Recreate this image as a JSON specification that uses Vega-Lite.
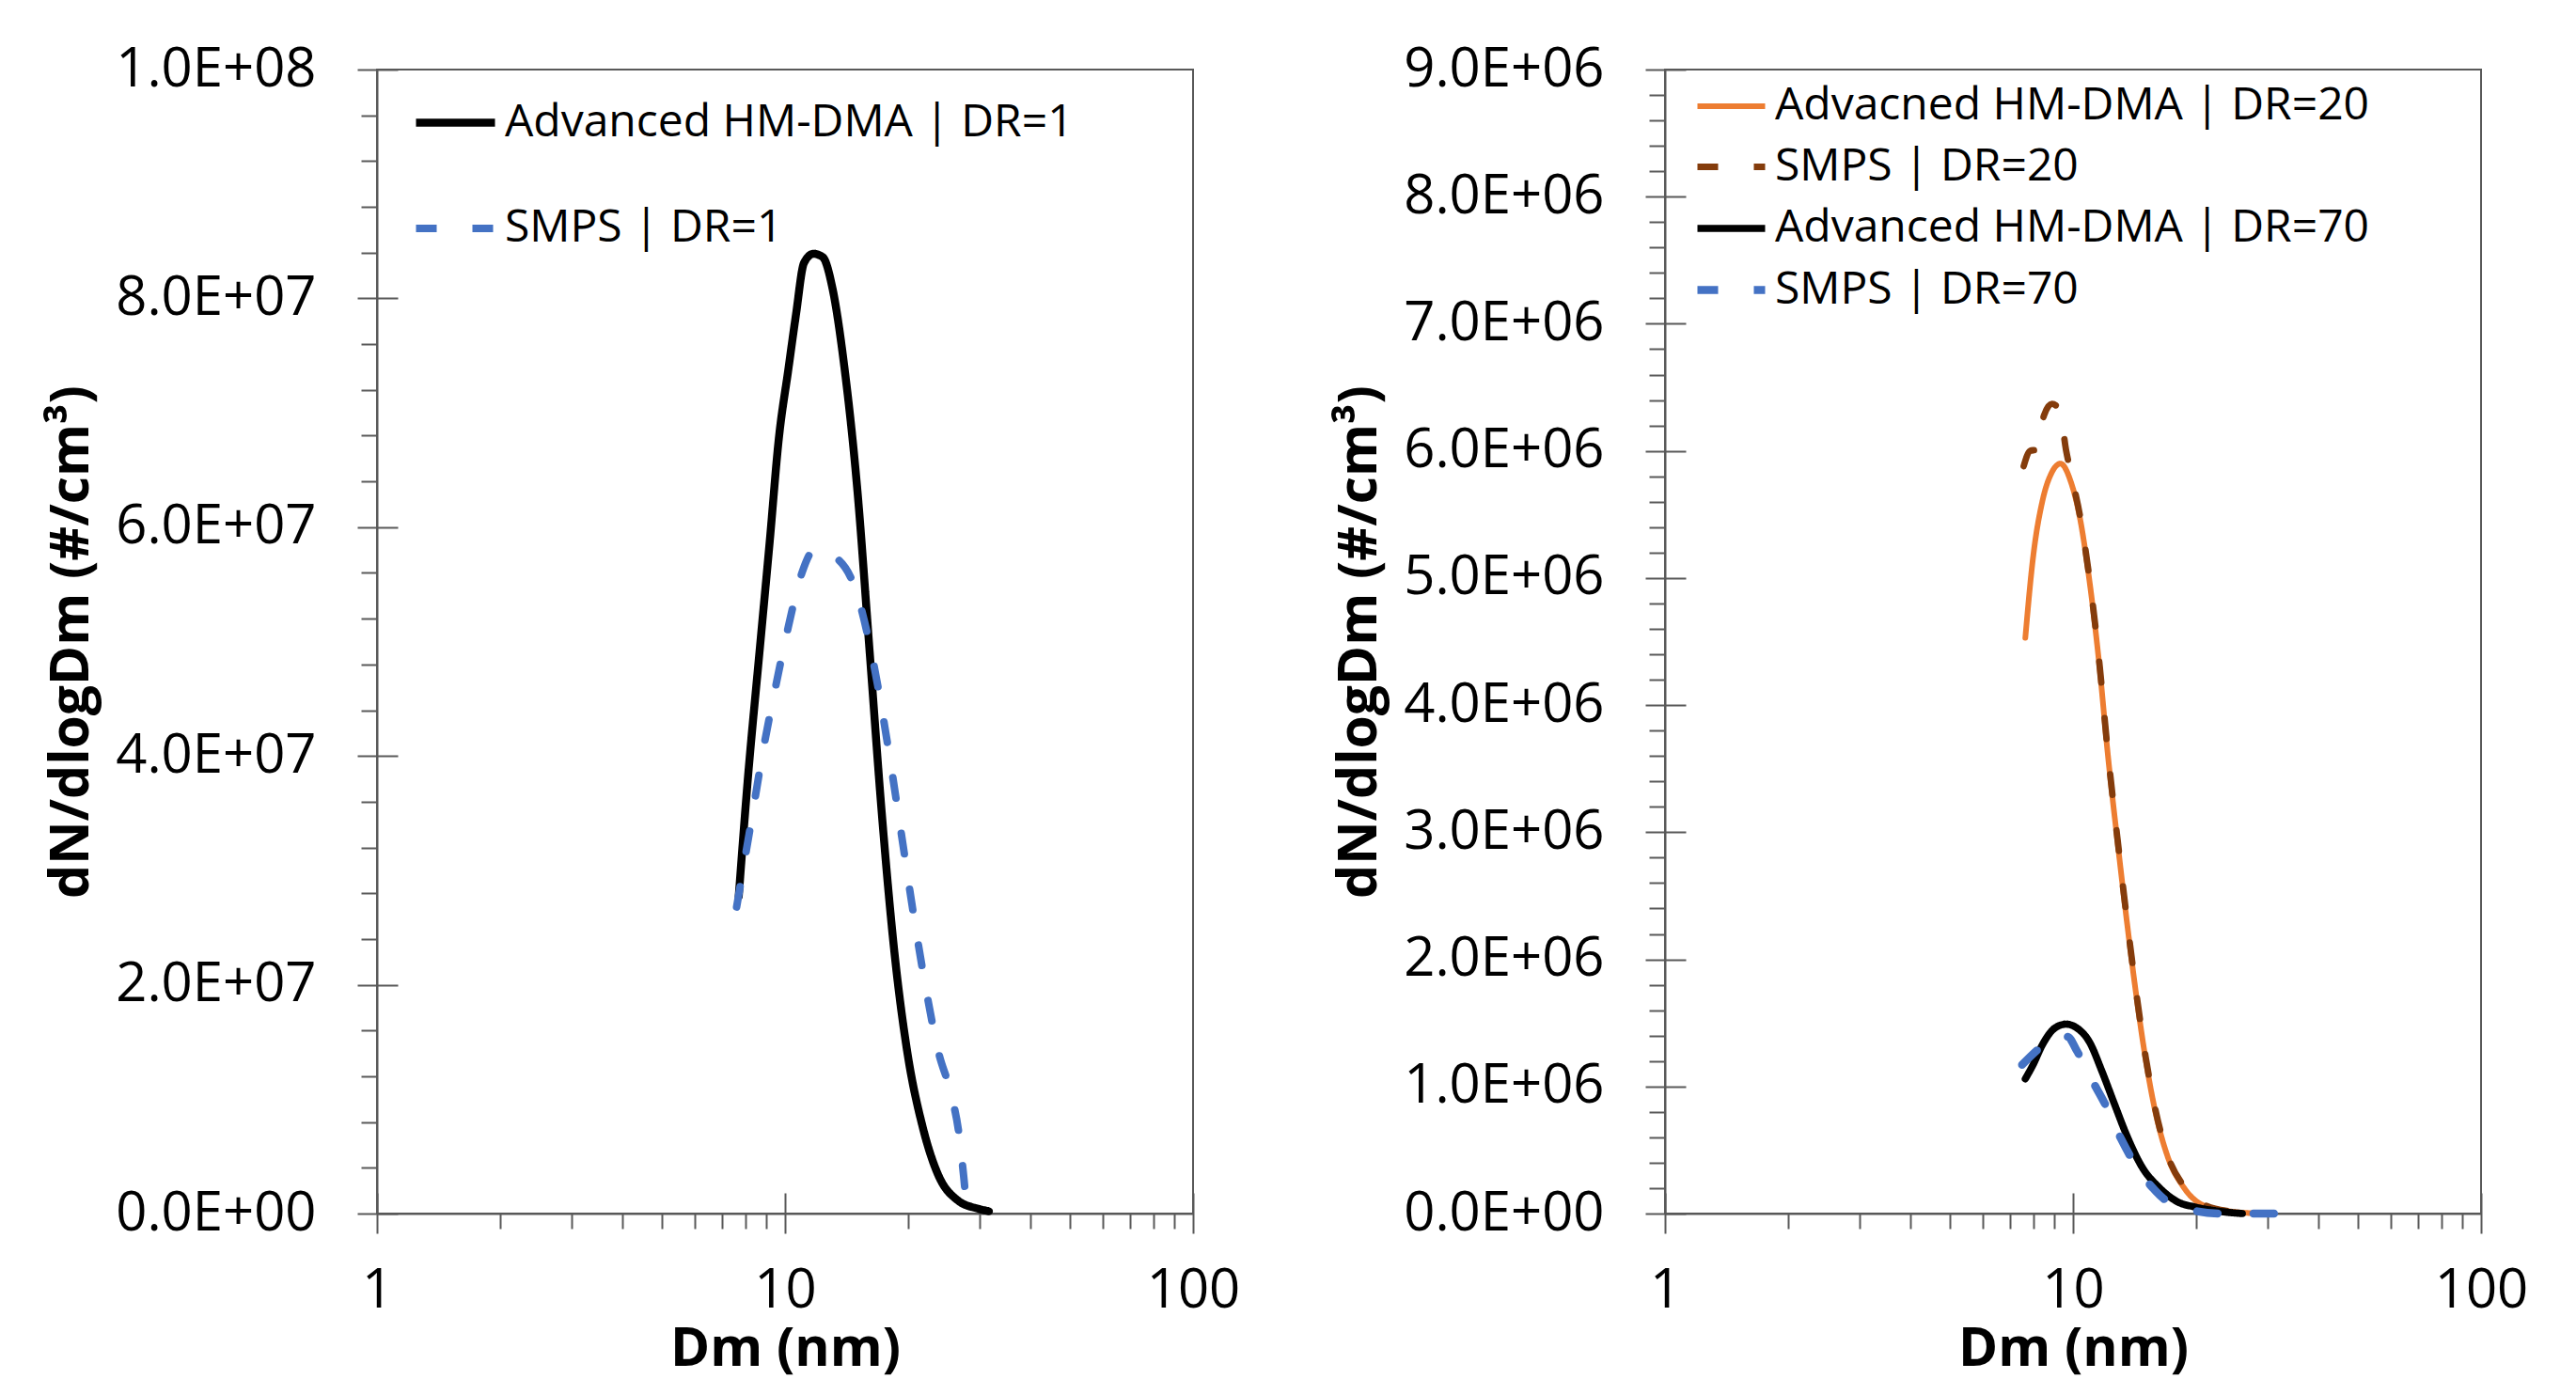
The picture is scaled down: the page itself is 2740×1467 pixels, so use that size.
{
  "$schema": "https://vega.github.io/schema/vega-lite/v6.json",
  "background": "white",
  "padding": {"left": 46, "top": 44, "right": 0, "bottom": 0},
  "spacing": 96,
  "datasets": {
    "left": [
      {"series": "Advanced HM-DMA | DR=1", "Dm": 7.70, "value": 27700000},
      {"series": "Advanced HM-DMA | DR=1", "Dm": 8.09, "value": 37600000},
      {"series": "Advanced HM-DMA | DR=1", "Dm": 8.69, "value": 49700000},
      {"series": "Advanced HM-DMA | DR=1", "Dm": 9.17, "value": 58700000},
      {"series": "Advanced HM-DMA | DR=1", "Dm": 9.66, "value": 67800000},
      {"series": "Advanced HM-DMA | DR=1", "Dm": 10.19, "value": 73800000},
      {"series": "Advanced HM-DMA | DR=1", "Dm": 10.64, "value": 78600000},
      {"series": "Advanced HM-DMA | DR=1", "Dm": 11.13, "value": 83100000},
      {"series": "Advanced HM-DMA | DR=1", "Dm": 11.74, "value": 83900000},
      {"series": "Advanced HM-DMA | DR=1", "Dm": 12.38, "value": 83600000},
      {"series": "Advanced HM-DMA | DR=1", "Dm": 13.05, "value": 81000000},
      {"series": "Advanced HM-DMA | DR=1", "Dm": 14.0, "value": 73800000},
      {"series": "Advanced HM-DMA | DR=1", "Dm": 15.02, "value": 63500000},
      {"series": "Advanced HM-DMA | DR=1", "Dm": 16.13, "value": 49000000},
      {"series": "Advanced HM-DMA | DR=1", "Dm": 17.3, "value": 34600000},
      {"series": "Advanced HM-DMA | DR=1", "Dm": 18.57, "value": 22600000},
      {"series": "Advanced HM-DMA | DR=1", "Dm": 19.94, "value": 14100000},
      {"series": "Advanced HM-DMA | DR=1", "Dm": 21.77, "value": 7500000},
      {"series": "Advanced HM-DMA | DR=1", "Dm": 23.79, "value": 3300000},
      {"series": "Advanced HM-DMA | DR=1", "Dm": 26.4, "value": 1200000},
      {"series": "Advanced HM-DMA | DR=1", "Dm": 29.9, "value": 400000},
      {"series": "Advanced HM-DMA | DR=1", "Dm": 31.6, "value": 200000},
      {"series": "SMPS | DR=1", "Dm": 7.61, "value": 26800000},
      {"series": "SMPS | DR=1", "Dm": 8.24, "value": 34000000},
      {"series": "SMPS | DR=1", "Dm": 8.85, "value": 40600000},
      {"series": "SMPS | DR=1", "Dm": 9.49, "value": 46100000},
      {"series": "SMPS | DR=1", "Dm": 10.19, "value": 51300000},
      {"series": "SMPS | DR=1", "Dm": 11.0, "value": 56000000},
      {"series": "SMPS | DR=1", "Dm": 11.8, "value": 58000000},
      {"series": "SMPS | DR=1", "Dm": 13.1, "value": 57500000},
      {"series": "SMPS | DR=1", "Dm": 14.9, "value": 54500000},
      {"series": "SMPS | DR=1", "Dm": 16.5, "value": 48000000},
      {"series": "SMPS | DR=1", "Dm": 17.92, "value": 40600000},
      {"series": "SMPS | DR=1", "Dm": 19.24, "value": 33400000},
      {"series": "SMPS | DR=1", "Dm": 20.64, "value": 26200000},
      {"series": "SMPS | DR=1", "Dm": 22.16, "value": 19600000},
      {"series": "SMPS | DR=1", "Dm": 23.78, "value": 14100000},
      {"series": "SMPS | DR=1", "Dm": 25.5, "value": 10500000},
      {"series": "SMPS | DR=1", "Dm": 26.7, "value": 6900000},
      {"series": "SMPS | DR=1", "Dm": 27.4, "value": 3300000},
      {"series": "SMPS | DR=1", "Dm": 27.9, "value": 600000},
      {"series": "SMPS | DR=1", "Dm": 28.3, "value": 0}
    ],
    "right": [
      {"series": "Advacned HM-DMA | DR=20", "Dm": 7.64, "value": 4530000},
      {"series": "Advacned HM-DMA | DR=20", "Dm": 7.98, "value": 5160000},
      {"series": "Advacned HM-DMA | DR=20", "Dm": 8.42, "value": 5610000},
      {"series": "Advacned HM-DMA | DR=20", "Dm": 8.87, "value": 5830000},
      {"series": "Advacned HM-DMA | DR=20", "Dm": 9.32, "value": 5900000},
      {"series": "Advacned HM-DMA | DR=20", "Dm": 9.87, "value": 5760000},
      {"series": "Advacned HM-DMA | DR=20", "Dm": 10.40, "value": 5470000},
      {"series": "Advacned HM-DMA | DR=20", "Dm": 10.97, "value": 4980000},
      {"series": "Advacned HM-DMA | DR=20", "Dm": 11.57, "value": 4350000},
      {"series": "Advacned HM-DMA | DR=20", "Dm": 12.19, "value": 3590000},
      {"series": "Advacned HM-DMA | DR=20", "Dm": 12.86, "value": 2920000},
      {"series": "Advacned HM-DMA | DR=20", "Dm": 13.56, "value": 2290000},
      {"series": "Advacned HM-DMA | DR=20", "Dm": 14.3, "value": 1710000},
      {"series": "Advacned HM-DMA | DR=20", "Dm": 15.07, "value": 1210000},
      {"series": "Advacned HM-DMA | DR=20", "Dm": 15.89, "value": 810000},
      {"series": "Advacned HM-DMA | DR=20", "Dm": 17.05, "value": 450000},
      {"series": "Advacned HM-DMA | DR=20", "Dm": 18.64, "value": 210000},
      {"series": "Advacned HM-DMA | DR=20", "Dm": 20.7, "value": 70000},
      {"series": "Advacned HM-DMA | DR=20", "Dm": 23.9, "value": 20000},
      {"series": "Advacned HM-DMA | DR=20", "Dm": 28.9, "value": 0},
      {"series": "SMPS | DR=20", "Dm": 7.57, "value": 5880000},
      {"series": "SMPS | DR=20", "Dm": 7.85, "value": 6000000},
      {"series": "SMPS | DR=20", "Dm": 8.13, "value": 6010000},
      {"series": "SMPS | DR=20", "Dm": 8.49, "value": 6280000},
      {"series": "SMPS | DR=20", "Dm": 8.88, "value": 6370000},
      {"series": "SMPS | DR=20", "Dm": 9.28, "value": 6320000},
      {"series": "SMPS | DR=20", "Dm": 9.61, "value": 6010000},
      {"series": "SMPS | DR=20", "Dm": 9.87, "value": 5830000},
      {"series": "SMPS | DR=20", "Dm": 10.40, "value": 5490000},
      {"series": "SMPS | DR=20", "Dm": 10.97, "value": 5000000},
      {"series": "SMPS | DR=20", "Dm": 11.57, "value": 4370000},
      {"series": "SMPS | DR=20", "Dm": 12.19, "value": 3610000},
      {"series": "SMPS | DR=20", "Dm": 12.86, "value": 2940000},
      {"series": "SMPS | DR=20", "Dm": 13.56, "value": 2310000},
      {"series": "SMPS | DR=20", "Dm": 14.3, "value": 1730000},
      {"series": "SMPS | DR=20", "Dm": 15.07, "value": 1230000},
      {"series": "SMPS | DR=20", "Dm": 15.89, "value": 830000},
      {"series": "SMPS | DR=20", "Dm": 17.05, "value": 460000},
      {"series": "SMPS | DR=20", "Dm": 18.64, "value": 220000},
      {"series": "SMPS | DR=20", "Dm": 20.7, "value": 80000},
      {"series": "SMPS | DR=20", "Dm": 23.9, "value": 20000},
      {"series": "SMPS | DR=20", "Dm": 28.9, "value": 0},
      {"series": "Advanced HM-DMA | DR=70", "Dm": 7.64, "value": 1060000},
      {"series": "Advanced HM-DMA | DR=70", "Dm": 7.98, "value": 1170000},
      {"series": "Advanced HM-DMA | DR=70", "Dm": 8.42, "value": 1330000},
      {"series": "Advanced HM-DMA | DR=70", "Dm": 9.03, "value": 1460000},
      {"series": "Advanced HM-DMA | DR=70", "Dm": 9.61, "value": 1490000},
      {"series": "Advanced HM-DMA | DR=70", "Dm": 10.22, "value": 1460000},
      {"series": "Advanced HM-DMA | DR=70", "Dm": 10.97, "value": 1350000},
      {"series": "Advanced HM-DMA | DR=70", "Dm": 11.77, "value": 1120000},
      {"series": "Advanced HM-DMA | DR=70", "Dm": 12.64, "value": 860000},
      {"series": "Advanced HM-DMA | DR=70", "Dm": 13.56, "value": 610000},
      {"series": "Advanced HM-DMA | DR=70", "Dm": 14.8, "value": 360000},
      {"series": "Advanced HM-DMA | DR=70", "Dm": 16.2, "value": 210000},
      {"series": "Advanced HM-DMA | DR=70", "Dm": 18.0, "value": 94000},
      {"series": "Advanced HM-DMA | DR=70", "Dm": 20.0, "value": 50000},
      {"series": "Advanced HM-DMA | DR=70", "Dm": 23.9, "value": 10000},
      {"series": "Advanced HM-DMA | DR=70", "Dm": 26.0, "value": 0},
      {"series": "SMPS | DR=70", "Dm": 7.50, "value": 1170000},
      {"series": "SMPS | DR=70", "Dm": 8.27, "value": 1300000},
      {"series": "SMPS | DR=70", "Dm": 9.03, "value": 1390000},
      {"series": "SMPS | DR=70", "Dm": 9.70, "value": 1390000},
      {"series": "SMPS | DR=70", "Dm": 10.22, "value": 1280000},
      {"series": "SMPS | DR=70", "Dm": 11.17, "value": 1040000},
      {"series": "SMPS | DR=70", "Dm": 11.99, "value": 860000},
      {"series": "SMPS | DR=70", "Dm": 13.1, "value": 590000},
      {"series": "SMPS | DR=70", "Dm": 14.06, "value": 410000},
      {"series": "SMPS | DR=70", "Dm": 15.6, "value": 210000},
      {"series": "SMPS | DR=70", "Dm": 17.05, "value": 94000},
      {"series": "SMPS | DR=70", "Dm": 20.0, "value": 20000},
      {"series": "SMPS | DR=70", "Dm": 23.0, "value": 0},
      {"series": "SMPS | DR=70", "Dm": 31.7, "value": 0}
    ]
  },
  "hconcat": [
    {
      "width": 868,
      "height": 1217,
      "data": {"name": "left"},
      "layer": [
        {
          "mark": {"type": "line", "interpolate": "monotone", "strokeCap": "round"},
          "encoding": {
            "x": {"field": "Dm", "type": "quantitative",
              "scale": {"type": "log", "domain": [1, 100], "nice": false},
              "axis": {"title": "Dm (nm)", "values": [1, 10, 100], "ticks": false, "labelFlush": false, "labelPadding": 53, "titlePadding": 5, "labelExpr": "format(datum.value, 'd')"}},
            "y": {"field": "value", "type": "quantitative",
              "scale": {"domain": [0, 100000000], "nice": false},
              "axis": {"title": "dN/dlogDm (#/cm³)", "values": [0, 20000000, 40000000, 60000000, 80000000, 100000000], "ticks": false, "labelPadding": 65, "titlePadding": 17,
                "labelExpr": "datum.value == 0 ? '0.0E+00' : format(datum.value / pow(10, floor(log(datum.value) / LN10 + 1e-9)), '.1f') + 'E+0' + floor(log(datum.value) / LN10 + 1e-9)"}},
            "color": {"field": "series", "type": "nominal",
              "scale": {"domain": ["Advanced HM-DMA | DR=1", "SMPS | DR=1"], "range": ["#000000", "#4472C4"]},
              "legend": {"orient": "none", "legendX": 37, "legendY": 10, "rowPadding": 42, "symbolSize": 7056}},
            "strokeDash": {"field": "series", "type": "nominal",
              "scale": {"domain": ["Advanced HM-DMA | DR=1", "SMPS | DR=1"], "range": [[1, 0], [22, 38]]},
              "legend": {"orient": "none", "legendX": 37, "legendY": 10, "rowPadding": 42, "symbolSize": 7056}},
            "strokeWidth": {"field": "series", "type": "nominal",
              "scale": {"domain": ["Advanced HM-DMA | DR=1", "SMPS | DR=1"], "range": [8.5, 8]},
              "legend": null}
          }
        },
        {
          "mark": {"type": "line", "opacity": 0},
          "encoding": {
            "x": {"field": "Dm", "type": "quantitative", "scale": {"type": "log", "domain": [1, 100], "nice": false},
              "axis": {"orient": "bottom", "title": null, "values": [1, 10, 100], "labels": false, "domain": false, "offset": -22, "tickSize": 43}},
            "y": {"field": "value", "type": "quantitative", "scale": {"domain": [0, 100000000], "nice": false},
              "axis": {"orient": "left", "title": null, "values": [0, 20000000, 40000000, 60000000, 80000000, 100000000], "labels": false, "domain": false, "offset": -22, "tickSize": 43}}
          }
        },
        {
          "mark": {"type": "line", "opacity": 0},
          "encoding": {
            "x": {"field": "Dm", "type": "quantitative", "scale": {"type": "log", "domain": [1, 100], "nice": false},
              "axis": {"orient": "bottom", "title": null, "values": [2, 3, 4, 5, 6, 7, 8, 9, 20, 30, 40, 50, 60, 70, 80, 90], "labels": false, "domain": false, "tickSize": 16}},
            "y": {"field": "value", "type": "quantitative", "scale": {"domain": [0, 100000000], "nice": false},
              "axis": {"orient": "left", "title": null, "values": [4000000, 8000000, 12000000, 16000000, 24000000, 28000000, 32000000, 36000000, 44000000, 48000000, 52000000, 56000000, 64000000, 68000000, 72000000, 76000000, 84000000, 88000000, 92000000, 96000000], "labels": false, "domain": false, "tickSize": 17}}
          }
        }
      ],
      "resolve": {"axis": {"x": "independent", "y": "independent"}}
    },
    {
      "width": 868,
      "height": 1217,
      "data": {"name": "right"},
      "layer": [
        {
          "mark": {"type": "line", "interpolate": "monotone", "strokeCap": "round"},
          "encoding": {
            "x": {"field": "Dm", "type": "quantitative",
              "scale": {"type": "log", "domain": [1, 100], "nice": false},
              "axis": {"title": "Dm (nm)", "values": [1, 10, 100], "ticks": false, "labelFlush": false, "labelPadding": 53, "titlePadding": 5, "labelExpr": "format(datum.value, 'd')"}},
            "y": {"field": "value", "type": "quantitative",
              "scale": {"domain": [0, 9000000], "nice": false},
              "axis": {"title": "dN/dlogDm (#/cm³)", "values": [0, 1000000, 2000000, 3000000, 4000000, 5000000, 6000000, 7000000, 8000000, 9000000], "ticks": false, "labelPadding": 65, "titlePadding": 17,
                "labelExpr": "datum.value == 0 ? '0.0E+00' : format(datum.value / pow(10, floor(log(datum.value) / LN10 + 1e-9)), '.1f') + 'E+0' + floor(log(datum.value) / LN10 + 1e-9)"}},
            "color": {"field": "series", "type": "nominal",
              "scale": {"domain": ["Advacned HM-DMA | DR=20", "SMPS | DR=20", "Advanced HM-DMA | DR=70", "SMPS | DR=70"], "range": ["#ED7D31", "#843C0C", "#000000", "#4472C4"]},
              "legend": {"orient": "none", "legendX": 30, "legendY": 0, "rowPadding": 1, "symbolSize": 5184}},
            "strokeDash": {"field": "series", "type": "nominal",
              "scale": {"domain": ["Advacned HM-DMA | DR=20", "SMPS | DR=20", "Advanced HM-DMA | DR=70", "SMPS | DR=70"], "range": [[1, 0], [22, 38], [1, 0], [22, 38]]},
              "legend": {"orient": "none", "legendX": 30, "legendY": 0, "rowPadding": 1, "symbolSize": 5184}},
            "strokeWidth": {"field": "series", "type": "nominal",
              "scale": {"domain": ["Advacned HM-DMA | DR=20", "SMPS | DR=20", "Advanced HM-DMA | DR=70", "SMPS | DR=70"], "range": [6, 8.5, 8, 8]},
              "legend": null}
          }
        },
        {
          "mark": {"type": "line", "opacity": 0},
          "encoding": {
            "x": {"field": "Dm", "type": "quantitative", "scale": {"type": "log", "domain": [1, 100], "nice": false},
              "axis": {"orient": "bottom", "title": null, "values": [1, 10, 100], "labels": false, "domain": false, "offset": -22, "tickSize": 43}},
            "y": {"field": "value", "type": "quantitative", "scale": {"domain": [0, 9000000], "nice": false},
              "axis": {"orient": "left", "title": null, "values": [0, 1000000, 2000000, 3000000, 4000000, 5000000, 6000000, 7000000, 8000000, 9000000], "labels": false, "domain": false, "offset": -22, "tickSize": 43}}
          }
        },
        {
          "mark": {"type": "line", "opacity": 0},
          "encoding": {
            "x": {"field": "Dm", "type": "quantitative", "scale": {"type": "log", "domain": [1, 100], "nice": false},
              "axis": {"orient": "bottom", "title": null, "values": [2, 3, 4, 5, 6, 7, 8, 9, 20, 30, 40, 50, 60, 70, 80, 90], "labels": false, "domain": false, "tickSize": 16}},
            "y": {"field": "value", "type": "quantitative", "scale": {"domain": [0, 9000000], "nice": false},
              "axis": {"orient": "left", "title": null, "values": [200000, 400000, 600000, 800000, 1200000, 1400000, 1600000, 1800000, 2200000, 2400000, 2600000, 2800000, 3200000, 3400000, 3600000, 3800000, 4200000, 4400000, 4600000, 4800000, 5200000, 5400000, 5600000, 5800000, 6200000, 6400000, 6600000, 6800000, 7200000, 7400000, 7600000, 7800000, 8200000, 8400000, 8600000, 8800000], "labels": false, "domain": false, "tickSize": 17}}
          }
        }
      ],
      "resolve": {"axis": {"x": "independent", "y": "independent"}}
    }
  ],
  "resolve": {"scale": {"color": "independent", "strokeDash": "independent", "strokeWidth": "independent"}},
  "config": {
    "font": "Open Sans",
    "view": {"stroke": "#595959", "strokeWidth": 2},
    "axis": {
      "grid": false,
      "maxExtent": 1000,
      "domainColor": "#595959",
      "domainWidth": 2,
      "tickColor": "#595959",
      "tickWidth": 2,
      "labelColor": "#000000",
      "labelFont": "Open Sans",
      "labelFontSize": 58,
      "labelLimit": 500,
      "titleFont": "Open Sans",
      "titleFontSize": 57,
      "titleFontWeight": "bold",
      "titleColor": "#000000",
      "titleLimit": 2000
    },
    "legend": {
      "title": null,
      "labelFont": "Open Sans",
      "labelFontSize": 48,
      "labelColor": "#000000",
      "labelOffset": 6,
      "symbolType": "stroke",
      "symbolStrokeWidth": 7.5,
      "padding": 0,
      "labelLimit": 1000
    }
  }
}
